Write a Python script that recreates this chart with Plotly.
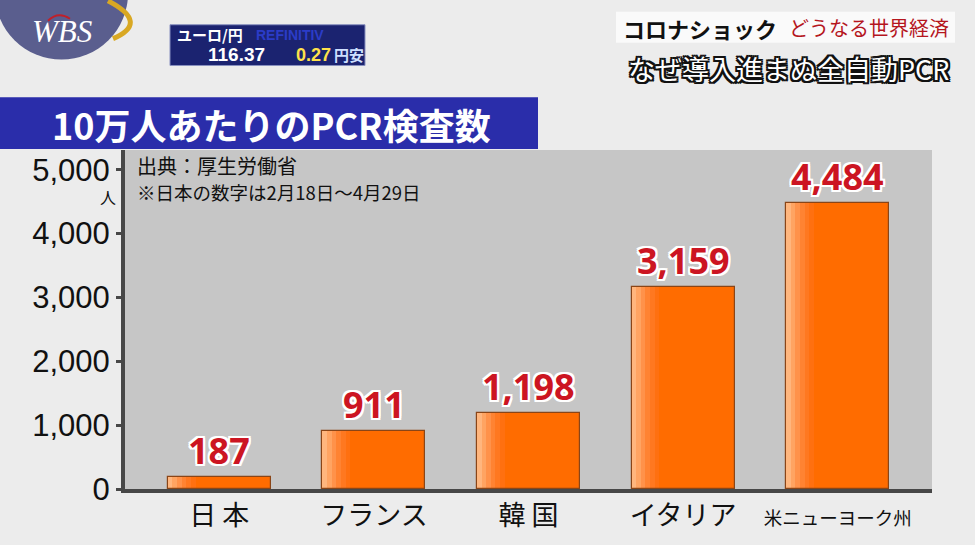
import plotly.graph_objects as go

# ---- data ----
categories = ["日 本", "フランス", "韓 国", "イタリア", "米ニューヨーク州"]
tests_per_100k = [187, 911, 1198, 3159, 4484]
y_ticks = [0, 1000, 2000, 3000, 4000, 5000]
y_tick_labels = ["0", "1,000", "2,000", "3,000", "4,000", "5,000"]
cat_labels = ["日 本", "フランス", "韓 国", "イタリア",
              "<span style='font-size:18.5px'>米ニューヨーク州</span>"]

# ---- layout helpers (pixel -> paper) ----
W_, H_ = 975, 545
PL, PR, PT, PB = 125, 932, 150, 491
def px(x):
    return (x - PL) / (PR - PL)
def py(y):
    return (PB - y) / (PB - PT)

BAR_W = 0.667
ORANGE = "#FF6C00"
grad = ["#FFB67E", "#FFA462", "#FF924A", "#FF8332", "#FF7820", "#FF7010"]
sw = 0.03

fig = go.Figure()
fig.add_trace(go.Bar(x=categories, y=tests_per_100k, width=BAR_W,
                     marker=dict(color=ORANGE, line=dict(width=0)),
                     hoverinfo="skip", showlegend=False))
for i, c in enumerate(grad):
    fig.add_trace(go.Bar(x=categories, y=tests_per_100k, width=sw,
                         offset=-BAR_W / 2 + i * sw,
                         marker=dict(color=c, line=dict(width=0)),
                         hoverinfo="skip", showlegend=False))
fig.add_trace(go.Bar(x=categories, y=tests_per_100k, width=BAR_W,
                     marker=dict(color="rgba(0,0,0,0)",
                                 line=dict(width=1.2, color="#8A4517")),
                     hoverinfo="skip", showlegend=False))

outline = ", ".join(f"{dx}px {dy}px 0 #ffffff" for dx, dy in
                    [(2, 0), (-2, 0), (0, 2), (0, -2), (2, 2), (-2, -2), (2, -2), (-2, 2)])

ann = []
for c, v in zip(categories, tests_per_100k):
    ann.append(dict(x=c, y=v, xref="x", yref="y", text=f"{v:,}", showarrow=False,
                    xanchor="center", yanchor="bottom", yshift=0,
                    font=dict(family="Noto Sans", size=36, color="#CC1522",
                              weight=700, shadow=outline)))

fig.update_layout(
    width=W_, height=H_,
    margin=dict(l=PL, r=W_ - PR, t=PT, b=H_ - PB),
    paper_bgcolor="#ECECEC",
    plot_bgcolor="#C6C6C6",
    barmode="overlay",
    bargap=0,
    font=dict(family="Noto Sans CJK JP", color="#111111"),
    xaxis=dict(range=[-0.61, 4.61], tickvals=categories, ticktext=cat_labels,
               tickfont=dict(size=27, family="Noto Sans CJK JP", color="#111111"),
               showline=True, linecolor="#474747", linewidth=4,
               ticks="", showgrid=False, zeroline=False, fixedrange=True),
    yaxis=dict(range=[0, 5310], tickvals=y_ticks, ticktext=y_tick_labels,
               tickfont=dict(size=31, family="Liberation Sans", color="#111111"),
               showline=True, linecolor="#474747", linewidth=4,
               ticks="outside", ticklen=5, tickwidth=3, tickcolor="#474747",
               showgrid=False, zeroline=False, fixedrange=True),
)

shapes = []

def label(text, x, y, size, color="#111111", xa="left", family="Noto Sans CJK JP", **kw):
    f = dict(size=size, color=color, family=family)
    f.update(kw)
    ann.append(dict(text=text, x=px(x), y=py(y), xref="paper", yref="paper",
                    xanchor=xa, yanchor="middle", showarrow=False, font=f))

# unit label
label("人", 108, 197, 16, xa="center")
# source notes
label("出典：厚生労働省", 135, 166, 20)
label("※日本の数字は2月18日～4月29日", 135, 192, 18.5)

# title banner
shapes.append(dict(type="rect", xref="paper", yref="paper", x0=px(0), x1=px(538),
                   y0=py(149), y1=py(97), fillcolor="#2A2DAA", line=dict(width=0), layer="above"))
label("<b>10万人あたりのPCR検査数</b>", 50, 124, 36, color="#FFFFFF")

# ticker box
shapes.append(dict(type="rect", xref="paper", yref="paper", x0=px(170), x1=px(365),
                   y0=py(65), y1=py(24), fillcolor="#1B2370", line=dict(width=1, color="#8890C0"),
                   layer="above"))
label("<b>ユーロ/円</b>", 175, 34, 15, color="#FFFFFF")
label("<b>REFINITIV</b>", 254, 34, 14, color="#2B3CC8", family="Liberation Sans")
label("<b>116.37</b>", 206, 54, 19, color="#FFFFFF", family="Liberation Sans")
label("<b>0.27</b>", 294, 54, 18, color="#FFE14A", family="Liberation Sans")
label("<b>円安</b>", 332, 54, 15, color="#CFE0FF")

# WBS logo
shapes.append(dict(type="circle", xref="paper", yref="paper", x0=px(-5), x1=px(128),
                   y0=py(59), y1=py(-74), fillcolor="#5A5E8E", line=dict(width=0), layer="above"))
shapes.append(dict(type="path", xref="paper", yref="paper",
                   path=f"M {px(108)},{py(0)} Q {px(150)},{py(22)} {px(113)},{py(38)}",
                   line=dict(color="#D9A823", width=5), layer="above"))
shapes.append(dict(type="path", xref="paper", yref="paper",
                   path=f"M {px(48)},{py(20)} Q {px(58)},{py(10)} {px(70)},{py(18)}",
                   line=dict(color="#C0202A", width=2), layer="above"))
label("<i>WBS</i>", 62, 31, 31, color="#FFFFFF", xa="center", family="Liberation Serif")

# top right titles
shapes.append(dict(type="rect", xref="paper", yref="paper", x0=px(616), x1=px(955),
                   y0=py(42), y1=py(11), fillcolor="#FAFAFA", line=dict(width=0), layer="above"))
label("<b>コロナショック</b>", 621, 27, 22, color="#111111")
label("どうなる世界経済", 951, 27, 20, color="#B5161E", xa="right")
title_outline = ", ".join(f"{dx}px {dy}px 0 #111" for dx, dy in
                          [(2, 0), (-2, 0), (0, 2), (0, -2), (2, 2), (-2, -2), (2, -2), (-2, 2)])
label("なぜ導入進まぬ全自動PCR", 951, 68, 27, color="#FFFFFF", xa="right",
      shadow=title_outline)

fig.update_layout(shapes=shapes, annotations=ann)
fig.write_html("out.html", config={"displayModeBar": False},
               post_script="document.body.style.margin='0';document.body.style.overflow='hidden';")
